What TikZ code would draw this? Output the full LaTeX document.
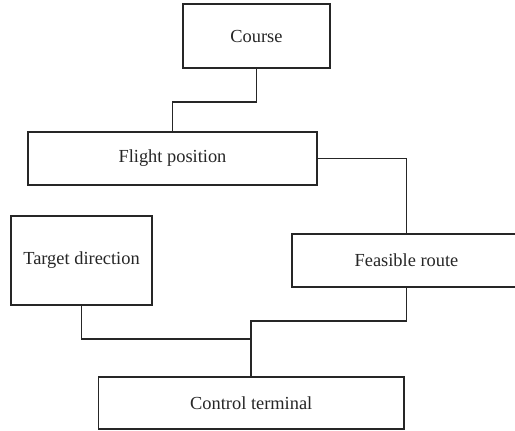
\documentclass[tikz,border=0pt]{standalone}
\usepackage{fontspec}
\setmainfont{Liberation Serif}
\begin{document}
\begin{tikzpicture}[x=1pt,y=-1pt,
  box/.style={draw=black!85, line width=1.8pt, inner sep=0pt, font=\fontsize{18.4}{20}\selectfont, text=black!85},
  conn/.style={draw=black!85, line width=1.8pt}]
\useasboundingbox (0,0) rectangle (515,431);
\clip (0,0) rectangle (515,431);
\fill[white] (0,0) rectangle (515,431);
\node[box, minimum width=147pt, minimum height=64pt] (course) at (256.5,36) {Course};
\node[box, minimum width=289pt, minimum height=53pt] (flight) at (172.5,158.5) {Flight position};
\node[box, minimum width=141pt, minimum height=89pt] (target) at (81.5,260.5) {Target direction};
\node[box, minimum width=229pt, minimum height=53pt] (feasible) at (406.5,260.5) {Feasible route};
\node[box, minimum width=305.5pt, minimum height=52pt] (control) at (251.25,403) {Control terminal};
\draw[conn] (course.south) -- ++(0,33) -| (flight.north);
\draw[conn] (flight.east) -| (feasible.north);
\draw[conn] (target.south) -- ++(0,33) -| (control.north);
\draw[conn] (feasible.south) -- ++(0,33) -| (control.north);
\end{tikzpicture}
\end{document}
